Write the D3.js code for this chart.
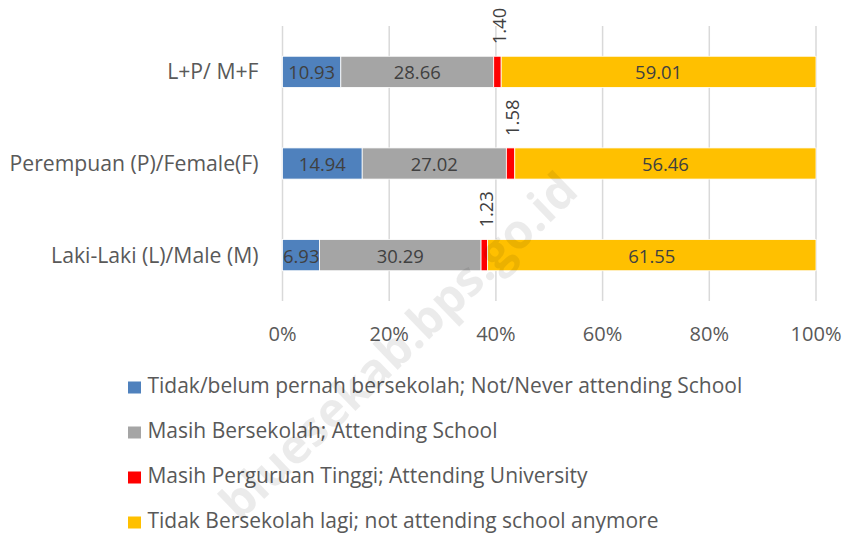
<!DOCTYPE html>
<html><head><meta charset="utf-8">
<script src="https://cdn.jsdelivr.net/npm/d3@7"></script>
<style>body{margin:0;background:#fff}svg{display:block}</style>
</head><body>
<script>
const categories = ["L+P/ M+F", "Perempuan (P)/Female(F)", "Laki-Laki (L)/Male (M)"];
const seriesNames = [
  "Tidak/belum pernah bersekolah; Not/Never attending School",
  "Masih Bersekolah; Attending School",
  "Masih Perguruan Tinggi; Attending University",
  "Tidak Bersekolah lagi; not attending school anymore"
];
const neverAttending = [10.93, 14.94, 6.93];
const attendingSchool = [28.66, 27.02, 30.29];
const attendingUniversity = [1.40, 1.58, 1.23];
const notAnymore = [59.01, 56.46, 61.55];
const tickValues = [0, 0.2, 0.4, 0.6, 0.8, 1.0];
const colors = ["#4f81bd", "#a5a5a5", "#ff0000", "#ffc000"];

const W = 847, H = 533;
const font = "'Open Sans', sans-serif";
const svg = d3.select("body").append("svg").attr("width", W).attr("height", H);

// fit a font size so a sample string has a given width (emulating Calibri metrics)
function fitSize(sample, targetW) {
  const t = svg.append("text").attr("font-family", font).attr("font-size", 20).text(sample);
  const w = t.node().getComputedTextLength();
  t.remove();
  return 20 * targetW / w;
}
const catSize = fitSize("Perempuan (P)/Female(F)", 249);
const legSize = fitSize(seriesNames[0], 595);
const tickSize = fitSize("100%", 51);
const dataSize = fitSize("10.93", 47);

const rows = categories.map((c, i) => {
  const vals = [neverAttending[i], attendingSchool[i], attendingUniversity[i], notAnymore[i]];
  const tot = d3.sum(vals);
  return {cat: c, vals, tot};
});

const x = d3.scaleLinear().domain([0, 1]).range([282.5, 816]);
const y = d3.scaleBand().domain(categories).range([26, 301]).paddingInner(0.66).paddingOuter(0.33);

// gridlines
svg.append("g").selectAll("line").data(tickValues).join("line")
  .attr("x1", d => x(d)).attr("x2", d => x(d))
  .attr("y1", 26).attr("y2", 301)
  .attr("stroke", "#d9d9d9").attr("stroke-width", 1.5);

// bars
const segs = [];
rows.forEach(r => {
  let acc = 0;
  r.vals.forEach((v, k) => {
    segs.push({cat: r.cat, k, v, x0: acc / r.tot, x1: (acc + v) / r.tot});
    acc += v;
  });
});
svg.append("g").selectAll("rect").data(segs).join("rect")
  .attr("x", d => x(d.x0)).attr("width", d => x(d.x1) - x(d.x0))
  .attr("y", d => y(d.cat)).attr("height", y.bandwidth())
  .attr("fill", d => colors[d.k]).attr("stroke", "#fff").attr("stroke-width", 0.8);

// labels
svg.append("g").selectAll("text").data(segs.filter(d => d.k !== 2)).join("text")
  .attr("x", d => d.k === 0 && d.v < 8 ? x(d.x0) + 0.5 : (x(d.x0) + x(d.x1)) / 2)
  .attr("text-anchor", d => d.k === 0 && d.v < 8 ? "start" : "middle")
  .attr("y", d => y(d.cat) + y.bandwidth() / 2 + 7.5)
  .attr("font-family", font).attr("font-size", dataSize).attr("fill", "#404040")
  .text(d => d.v.toFixed(2));

svg.append("g").selectAll("text").data(segs.filter(d => d.k === 2)).join("text")
  .attr("transform", d => `translate(${(x(d.x0) + x(d.x1)) / 2 + 8.5},${y(d.cat) - 12}) rotate(-90)`)
  .attr("text-anchor", "start")
  .attr("font-family", font).attr("font-size", dataSize).attr("fill", "#404040")
  .text(d => d.v.toFixed(2));

// category axis labels
svg.append("g").selectAll("text").data(categories).join("text")
  .attr("x", 258.5).attr("y", d => y(d) + y.bandwidth() / 2 + 7.5)
  .attr("text-anchor", "end")
  .attr("font-family", font).attr("font-size", catSize).attr("fill", "#595959")
  .text(d => d);

// x axis labels
const fmt = d3.format(".0%");
svg.append("g").selectAll("text").data(tickValues).join("text")
  .attr("x", d => x(d)).attr("y", 341)
  .attr("text-anchor", "middle")
  .attr("font-family", font).attr("font-size", tickSize).attr("fill", "#595959")
  .text(d => fmt(d));

// legend
const lg = svg.append("g").selectAll("g").data(seriesNames).join("g")
  .attr("transform", (d, i) => `translate(128,${387.5 + i * 45})`);
lg.append("rect").attr("x", 0).attr("y", -6).attr("width", 13).attr("height", 12)
  .attr("fill", (d, i) => colors[i]);
lg.append("text").attr("x", 19.5).attr("y", 5)
  .attr("font-family", font).attr("font-size", legSize).attr("fill", "#595959")
  .text(d => d);

// watermark
svg.append("text")
  .attr("transform", "translate(410,358) rotate(-44)")
  .attr("text-anchor", "middle")
  .attr("font-family", "'Open Sans', sans-serif").attr("font-weight", "bold")
  .attr("font-size", 48).attr("fill", "#000").attr("fill-opacity", 0.08)
  .text("bluesekab.bps.go.id");
</script>
</body></html>
